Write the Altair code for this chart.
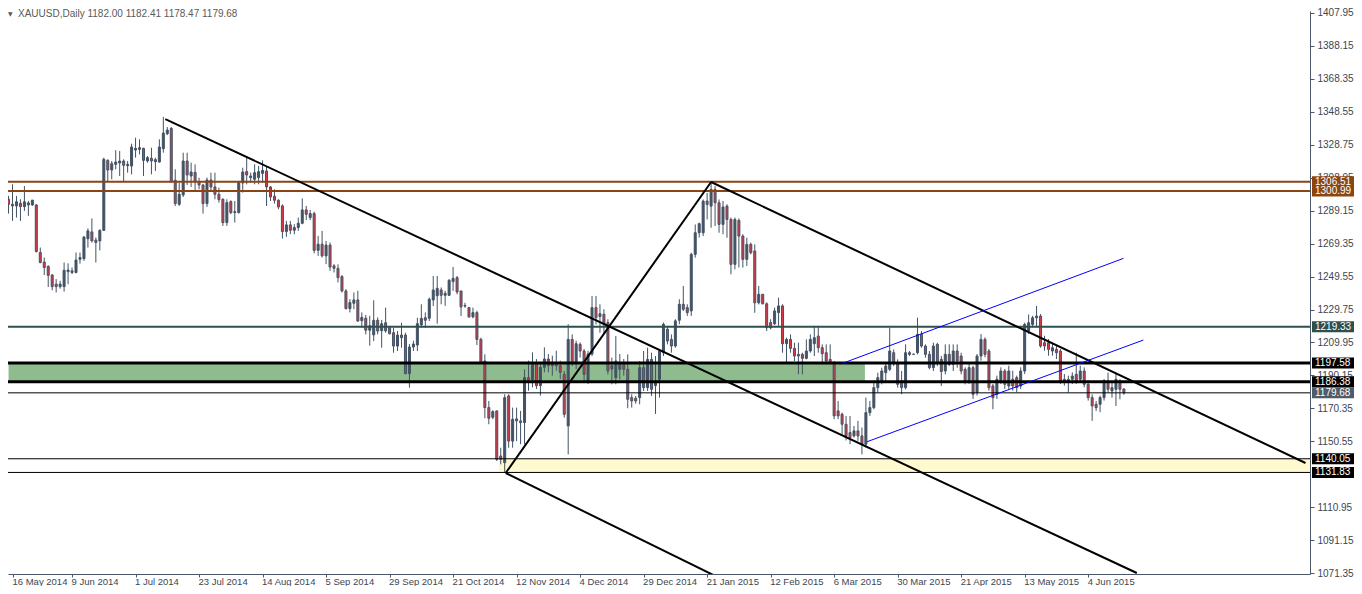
import json
import altair as alt
import pandas as pd

# ---------------- data ----------------
OPEN = [
    1296.0, 1293.0, 1292.0, 1293.6, 1291.6, 1292.6, 1292.6, 1292.6, 1264.0, 1258.3, 1255.7, 1250.5, 1245.0, 1243.5, 1243.5, 1252.5,
    1253.0, 1252.0, 1259.9, 1260.3, 1272.3, 1276.4, 1271.5, 1271.0, 1277.3, 1319.4, 1313.6, 1317.0, 1317.8, 1319.0, 1316.2, 1316.0,
    1325.6, 1326.0, 1326.6, 1319.0, 1320.6, 1318.6, 1318.4, 1326.4, 1335.4, 1338.6, 1307.4, 1293.0, 1298.6, 1319.0, 1310.0, 1312.2,
    1306.6, 1304.6, 1293.4, 1307.6, 1303.4, 1299.0, 1296.0, 1282.0, 1294.6, 1288.0, 1288.0, 1305.8, 1312.6, 1309.0, 1308.0, 1309.0,
    1311.6, 1313.0, 1303.4, 1297.8, 1295.4, 1292.0, 1276.6, 1280.6, 1277.4, 1279.0, 1281.6, 1289.6, 1285.0, 1287.4, 1265.3, 1269.0,
    1262.0, 1268.5, 1256.0, 1254.5, 1249.5, 1240.9, 1230.3, 1233.5, 1235.5, 1223.0, 1224.5, 1217.3, 1214.5, 1223.3, 1217.0, 1221.8,
    1218.8, 1215.8, 1207.8, 1214.4, 1214.4, 1191.2, 1207.2, 1208.4, 1220.5, 1224.8, 1224.5, 1235.5, 1238.0, 1241.5, 1238.3, 1238.3,
    1246.5, 1248.9, 1240.9, 1231.8, 1230.9, 1225.3, 1227.9, 1211.8, 1198.8, 1170.8, 1165.0, 1168.8, 1141.7, 1137.7, 1177.8, 1150.7,
    1164.0, 1162.8, 1161.8, 1188.8, 1187.5, 1197.0, 1184.0, 1195.0, 1200.0, 1196.0, 1198.0, 1196.0, 1190.8, 1159.8, 1211.8, 1197.8,
    1208.8, 1204.8, 1187.0, 1203.0, 1230.9, 1225.5, 1226.9, 1221.9, 1194.0, 1188.8, 1193.8, 1197.8, 1193.8, 1176.8, 1176.4, 1176.8,
    1194.8, 1182.8, 1199.8, 1184.0, 1187.8, 1203.8, 1217.9, 1211.8, 1207.8, 1223.3, 1232.9, 1230.9, 1228.9, 1262.9, 1275.9, 1275.9,
    1294.9, 1291.9, 1301.9, 1293.9, 1280.9, 1291.9, 1283.9, 1256.9, 1283.3, 1273.9, 1259.9, 1268.9, 1264.9, 1233.8, 1238.9, 1233.2,
    1221.9, 1221.2, 1227.9, 1231.9, 1209.2, 1211.8, 1206.4, 1202.8, 1202.8, 1200.4, 1204.8, 1209.2, 1213.8, 1206.8, 1203.8, 1199.8,
    1197.8, 1168.8, 1166.8, 1160.8, 1155.8, 1153.8, 1156.8, 1153.8, 1148.8, 1167.8, 1170.8, 1182.8, 1186.8, 1191.8, 1193.8, 1203.8,
    1197.8, 1186.8, 1182.8, 1203.8, 1202.8, 1203.8, 1214.8, 1207.8, 1202.8, 1194.8, 1208.8, 1199.8, 1192.8, 1202.8, 1196.8, 1204.8,
    1201.8, 1193.8, 1186.8, 1194.8, 1179.8, 1201.8, 1211.8, 1204.8, 1183.8, 1178.8, 1186.8, 1192.8, 1183.8, 1187.8, 1188.8, 1183.8,
    1192.8, 1216.8, 1220.8, 1224.8, 1225.8, 1209.8, 1209.8, 1204.8, 1205.8, 1204.8, 1186.8, 1186.8, 1187.8, 1190.8, 1187.8, 1192.8,
    1184.8, 1176.8, 1172.8, 1172.8, 1176.8, 1186.8, 1180.8, 1181.8, 1186.8, 1182.00,
]
HIGH = [
    1298.0, 1305.0, 1298.0, 1296.0, 1304.0, 1295.0, 1295.5, 1293.0, 1267.0, 1261.0, 1256.3, 1251.0, 1248.0, 1247.0, 1258.0, 1257.5,
    1255.0, 1264.0, 1264.0, 1274.0, 1278.5, 1284.5, 1273.0, 1278.0, 1321.0, 1320.0, 1319.0, 1325.5, 1325.0, 1320.0, 1319.0, 1329.4,
    1333.0, 1332.0, 1327.0, 1322.0, 1327.0, 1321.0, 1332.0, 1345.5, 1339.4, 1339.4, 1314.0, 1306.0, 1324.0, 1324.0, 1318.0, 1317.0,
    1309.0, 1305.0, 1309.0, 1312.0, 1312.0, 1303.0, 1296.6, 1296.0, 1295.4, 1295.0, 1307.0, 1315.0, 1322.0, 1312.0, 1317.0, 1316.0,
    1319.4, 1316.0, 1304.0, 1302.0, 1296.0, 1293.0, 1283.0, 1283.0, 1281.0, 1285.0, 1296.5, 1292.0, 1289.6, 1288.5, 1274.0, 1277.0,
    1271.0, 1270.0, 1257.0, 1256.9, 1250.5, 1242.0, 1236.0, 1240.0, 1241.0, 1228.0, 1226.5, 1226.0, 1235.3, 1225.0, 1223.5, 1230.9,
    1219.8, 1218.8, 1216.8, 1221.8, 1215.8, 1209.0, 1211.0, 1224.8, 1232.9, 1228.0, 1236.9, 1249.9, 1249.9, 1243.0, 1241.0, 1248.0,
    1255.3, 1249.9, 1241.0, 1233.8, 1231.3, 1230.9, 1229.0, 1212.8, 1202.8, 1174.8, 1169.2, 1169.0, 1146.7, 1178.8, 1178.8, 1170.8,
    1170.8, 1168.8, 1193.8, 1199.0, 1204.0, 1200.0, 1198.0, 1207.0, 1203.0, 1202.0, 1205.0, 1199.0, 1192.8, 1220.9, 1214.8, 1211.0,
    1210.0, 1206.0, 1205.0, 1237.9, 1237.9, 1232.9, 1229.9, 1223.9, 1200.8, 1213.8, 1203.0, 1200.0, 1202.8, 1178.8, 1177.8, 1198.8,
    1204.8, 1206.8, 1203.8, 1201.8, 1205.8, 1221.9, 1219.9, 1214.8, 1223.9, 1235.9, 1243.9, 1232.9, 1263.9, 1280.9, 1282.0, 1295.9,
    1299.9, 1305.9, 1303.9, 1295.9, 1295.0, 1293.0, 1285.0, 1285.0, 1284.5, 1275.0, 1272.9, 1270.0, 1268.9, 1243.9, 1239.0, 1234.0,
    1223.9, 1230.9, 1236.9, 1232.9, 1212.8, 1214.8, 1209.8, 1209.8, 1203.8, 1211.8, 1214.8, 1219.9, 1219.9, 1208.8, 1208.8, 1208.8,
    1198.8, 1174.8, 1167.8, 1165.8, 1165.8, 1159.8, 1162.8, 1158.8, 1176.8, 1174.8, 1185.8, 1191.8, 1194.8, 1197.8, 1218.8, 1205.8,
    1199.8, 1192.8, 1208.8, 1204.8, 1203.2, 1224.8, 1216.8, 1208.8, 1204.8, 1209.8, 1209.8, 1201.8, 1208.8, 1208.8, 1208.8, 1208.8,
    1203.8, 1195.0, 1198.0, 1196.0, 1203.0, 1215.0, 1213.0, 1206.0, 1185.0, 1190.0, 1195.0, 1194.0, 1196.0, 1193.0, 1190.0, 1195.0,
    1221.8, 1226.8, 1226.0, 1231.9, 1227.0, 1214.0, 1212.0, 1210.0, 1208.0, 1206.0, 1191.0, 1190.0, 1192.0, 1203.8, 1196.0, 1195.0,
    1187.0, 1178.8, 1174.8, 1178.0, 1188.0, 1191.8, 1186.8, 1191.8, 1187.8, 1182.41,
]
LOW = [
    1287.4, 1283.0, 1285.0, 1283.0, 1289.0, 1286.0, 1292.0, 1264.0, 1257.5, 1250.5, 1243.3, 1241.3, 1240.0, 1242.3, 1240.5, 1245.0,
    1251.0, 1251.5, 1257.3, 1259.0, 1267.0, 1270.0, 1258.0, 1265.3, 1277.0, 1306.4, 1308.0, 1314.0, 1310.0, 1306.4, 1312.0, 1311.0,
    1321.0, 1323.0, 1310.0, 1318.0, 1311.0, 1313.0, 1318.0, 1324.0, 1334.6, 1306.0, 1292.0, 1292.0, 1297.4, 1304.6, 1303.4, 1301.0,
    1302.0, 1287.4, 1291.4, 1301.0, 1296.0, 1294.0, 1280.0, 1280.0, 1287.0, 1282.0, 1287.4, 1300.0, 1305.0, 1306.0, 1305.0, 1305.0,
    1306.0, 1292.0, 1295.0, 1293.4, 1290.0, 1272.4, 1273.4, 1275.0, 1275.0, 1277.0, 1281.0, 1283.5, 1283.5, 1263.5, 1262.0, 1261.0,
    1257.0, 1253.0, 1252.0, 1246.0, 1240.0, 1229.8, 1228.0, 1230.0, 1222.5, 1218.9, 1214.8, 1208.0, 1210.8, 1214.8, 1206.8, 1215.8,
    1214.8, 1203.8, 1204.8, 1206.8, 1190.8, 1182.8, 1204.8, 1204.8, 1218.8, 1218.8, 1222.8, 1231.9, 1221.2, 1232.9, 1231.9, 1238.0,
    1240.9, 1238.9, 1225.9, 1230.8, 1224.8, 1224.5, 1208.4, 1196.8, 1164.4, 1160.8, 1163.8, 1138.7, 1136.7, 1131.7, 1146.7, 1146.7,
    1150.7, 1148.8, 1148.7, 1181.0, 1183.0, 1182.0, 1178.0, 1192.0, 1192.0, 1190.0, 1193.0, 1188.0, 1164.8, 1142.7, 1195.8, 1194.0,
    1200.8, 1185.8, 1185.0, 1201.8, 1220.8, 1215.8, 1214.8, 1190.8, 1184.8, 1184.8, 1187.8, 1190.0, 1170.4, 1170.8, 1173.2, 1172.8,
    1180.8, 1180.8, 1177.8, 1167.0, 1176.8, 1201.8, 1208.8, 1203.8, 1206.8, 1220.9, 1228.8, 1225.9, 1225.9, 1260.9, 1273.0, 1273.9,
    1283.9, 1278.9, 1279.9, 1275.9, 1275.0, 1272.9, 1250.9, 1253.9, 1255.0, 1254.9, 1255.9, 1262.9, 1227.8, 1232.8, 1232.8, 1216.8,
    1217.8, 1220.4, 1219.9, 1203.8, 1197.8, 1203.8, 1198.8, 1190.8, 1190.8, 1199.8, 1203.8, 1201.8, 1203.8, 1196.8, 1196.8, 1196.8,
    1163.8, 1163.8, 1154.8, 1151.1, 1148.8, 1152.8, 1150.8, 1142.7, 1146.8, 1165.8, 1169.8, 1179.8, 1184.8, 1185.8, 1192.8, 1195.8,
    1182.8, 1178.8, 1181.8, 1201.8, 1202.4, 1202.8, 1206.8, 1200.8, 1193.8, 1192.8, 1195.8, 1183.8, 1190.8, 1195.8, 1192.8, 1194.8,
    1190.8, 1184.8, 1185.0, 1176.0, 1178.0, 1199.0, 1201.0, 1181.0, 1169.8, 1176.0, 1185.0, 1182.0, 1182.0, 1181.0, 1180.0, 1182.0,
    1191.0, 1215.0, 1219.0, 1219.0, 1206.8, 1205.0, 1202.0, 1202.0, 1200.0, 1185.0, 1184.0, 1179.8, 1185.0, 1185.0, 1186.0, 1183.0,
    1175.0, 1162.8, 1168.8, 1168.0, 1175.0, 1180.0, 1176.8, 1171.8, 1175.8, 1178.47,
]
CLOSE = [
    1293.0, 1292.0, 1294.5, 1291.6, 1294.5, 1293.8, 1295.5, 1264.6, 1258.0, 1255.0, 1250.3, 1243.5, 1243.5, 1245.0, 1253.3, 1253.5,
    1252.0, 1259.5, 1261.0, 1273.3, 1277.0, 1271.0, 1270.0, 1277.3, 1320.0, 1313.6, 1317.4, 1318.4, 1319.0, 1316.4, 1317.0, 1327.4,
    1326.6, 1327.0, 1319.4, 1321.0, 1319.0, 1319.8, 1327.4, 1335.8, 1337.6, 1306.6, 1293.4, 1299.0, 1319.0, 1310.6, 1312.4, 1306.4,
    1304.6, 1293.4, 1307.6, 1303.4, 1299.0, 1295.8, 1282.0, 1294.0, 1288.0, 1288.6, 1306.0, 1312.4, 1310.6, 1310.0, 1312.0, 1312.6,
    1313.4, 1303.4, 1297.4, 1295.4, 1291.4, 1276.6, 1280.6, 1277.4, 1279.0, 1281.6, 1289.6, 1287.0, 1287.4, 1265.3, 1269.0, 1262.0,
    1268.5, 1255.3, 1254.5, 1248.9, 1240.9, 1230.3, 1233.9, 1235.5, 1222.8, 1225.0, 1217.3, 1220.0, 1223.3, 1216.8, 1221.2, 1216.9,
    1215.2, 1207.8, 1214.4, 1212.8, 1191.2, 1207.2, 1209.0, 1221.2, 1224.4, 1223.3, 1235.9, 1241.5, 1242.5, 1238.3, 1239.5, 1247.3,
    1248.5, 1240.3, 1231.3, 1232.2, 1225.3, 1227.9, 1211.8, 1197.8, 1170.8, 1164.4, 1168.4, 1139.7, 1139.7, 1176.8, 1150.7, 1163.8,
    1162.8, 1161.8, 1188.8, 1187.5, 1197.0, 1184.0, 1195.0, 1200.0, 1196.0, 1198.0, 1196.0, 1192.0, 1166.8, 1211.8, 1197.8, 1209.2,
    1204.8, 1190.8, 1203.0, 1230.9, 1224.8, 1227.2, 1220.9, 1192.8, 1196.0, 1198.8, 1197.8, 1193.8, 1175.8, 1174.8, 1174.8, 1194.8,
    1182.8, 1199.8, 1181.8, 1186.8, 1204.8, 1220.9, 1210.8, 1207.8, 1222.9, 1232.9, 1229.9, 1227.9, 1262.9, 1275.9, 1281.3, 1294.9,
    1292.9, 1301.9, 1293.9, 1280.9, 1291.4, 1283.9, 1256.9, 1283.9, 1273.9, 1259.9, 1268.9, 1263.9, 1233.8, 1238.9, 1233.2, 1218.8,
    1218.8, 1228.9, 1231.9, 1209.2, 1211.8, 1206.4, 1201.8, 1201.8, 1200.4, 1204.8, 1211.8, 1212.8, 1206.8, 1203.2, 1198.8, 1197.8,
    1165.8, 1165.8, 1160.8, 1153.8, 1152.8, 1156.8, 1153.8, 1148.8, 1167.8, 1170.8, 1182.8, 1188.8, 1192.8, 1195.8, 1204.8, 1197.8,
    1184.8, 1182.8, 1203.8, 1202.8, 1202.9, 1214.8, 1207.8, 1202.8, 1194.8, 1207.8, 1197.8, 1192.5, 1202.8, 1196.8, 1204.8, 1198.8,
    1192.8, 1186.8, 1194.8, 1178.8, 1201.8, 1211.8, 1202.8, 1182.8, 1176.8, 1187.8, 1192.8, 1184.8, 1192.8, 1183.8, 1182.8, 1192.8,
    1220.8, 1221.8, 1224.8, 1225.8, 1207.8, 1207.8, 1205.8, 1206.8, 1203.8, 1186.8, 1187.8, 1187.8, 1189.8, 1186.8, 1192.8, 1184.8,
    1176.8, 1171.8, 1170.8, 1176.8, 1186.8, 1181.8, 1182.8, 1187.8, 1181.8, 1179.68,
]

DATE_LABELS = [
    "16 May 2014", "9 Jun 2014", "1 Jul 2014", "23 Jul 2014", "14 Aug 2014", "5 Sep 2014",
    "29 Sep 2014", "21 Oct 2014", "12 Nov 2014", "4 Dec 2014", "29 Dec 2014", "21 Jan 2015",
    "12 Feb 2015", "6 Mar 2015", "30 Mar 2015", "21 Apr 2015", "13 May 2015", "4 Jun 2015",
]
BARS_PER_LABEL = 16

# 1130.75 is hidden behind the 1131.83 tag in the original
PRICE_TICKS = [1407.95, 1388.15, 1368.35, 1348.55, 1328.75, 1308.95, 1289.15, 1269.35, 1249.55,
               1229.75, 1209.95, 1190.15, 1170.35, 1150.55, 1110.95, 1091.15, 1071.35]

BROWN_LEVELS = [1306.51, 1300.99]
SLATE_LEVELS = [1219.33]
THICK_LEVELS = [1197.58, 1186.38]
THIN_LEVELS = [1179.68, 1140.05, 1131.83]
BID_LEVEL = [1179.68]
BLACK_TAGS = [1197.58, 1186.38, 1140.05, 1131.83]

# zones: bar-index span and price span
GREEN_ZONE_X = [0, 215.75]
GREEN_ZONE_Y = [1186.38, 1197.58]
YELLOW_ZONE_X = [123.5, 330]
YELLOW_ZONE_Y = [1131.83, 1140.05]

# trend lines: (bar, price) -> (bar, price)
BLACK_X1 = [39.5, 125.25, 125.25, 177.0]
BLACK_Y1 = [1344.2, 1131.5, 1131.5, 1306.4]
BLACK_X2 = [284.25, 182.0, 177.0, 326.75]
BLACK_Y2 = [1071.4, 1065.0, 1306.4, 1137.5]
BLUE_X1 = [216.3, 210.1]
BLUE_Y1 = [1150.3, 1197.4]
BLUE_X2 = [285.9, 280.9]
BLUE_Y2 = [1211.4, 1260.5]

HEADER = "XAUUSD,Daily  1182.00 1182.41 1178.47 1179.68"

# ---------------- styling ----------------
W, H = 1302, 563
PAD_T, PAD_R, PAD_B = 3, 44, 12
X_DOM = [1.125, 326.625]
Y_DOM = [1070.80, 1409.15]
SLATE = "#435365"
RED = "#DA3A44"
AXIS_C = "#4A5868"
TEXT_C = "#3C4652"
FONT = "Liberation Sans"
FS = 10

xs = alt.Scale(domain=X_DOM, nice=False, zero=False)
ys = alt.Scale(domain=Y_DOM, nice=False, zero=False)

tick_vals = [max(k * BARS_PER_LABEL, X_DOM[0]) for k in range(len(DATE_LABELS))]
x_axis = alt.Axis(
    values=tick_vals,
    labelExpr=f"{json.dumps(DATE_LABELS)}[round(datum.value / {BARS_PER_LABEL})]",
    labelAlign="left", labelBaseline="top", labelPadding=-1, labelFlush=False, labelOffset=-1,
    tickSize=3, tickColor=AXIS_C, domainColor=AXIS_C, grid=False, title=None,
    labelOverlap=False, labelFont=FONT, labelFontSize=9.5, labelColor=TEXT_C,
)
y_axis = alt.Axis(
    orient="right", values=PRICE_TICKS, format=".2f", tickSize=4, labelPadding=3,
    tickColor=AXIS_C, domainColor=AXIS_C, grid=False, title=None, labelOverlap=False,
    labelFont=FONT, labelFontSize=FS, labelColor=TEXT_C,
)


def X(f):
    return alt.X(f, scale=xs, axis=x_axis)


def Y(f):
    return alt.Y(f, scale=ys, axis=y_axis)


candles = pd.DataFrame({"i": range(len(OPEN)), "o": OPEN, "h": HIGH, "l": LOW, "c": CLOSE})

zones = pd.DataFrame({
    "x0": [GREEN_ZONE_X[0], YELLOW_ZONE_X[0]], "x1": [GREEN_ZONE_X[1], YELLOW_ZONE_X[1]],
    "y0": [GREEN_ZONE_Y[0], YELLOW_ZONE_Y[0]], "y1": [GREEN_ZONE_Y[1], YELLOW_ZONE_Y[1]],
    "zone": ["green", "yellow"],
})
zone_layer = alt.Chart(zones).mark_rect(clip=True).encode(
    x=X("x0:Q"), x2="x1:Q", y=Y("y0:Q"), y2="y1:Q",
    color=alt.Color("zone:N", scale=alt.Scale(domain=["green", "yellow"], range=["#8FBC8F", "#FFF9CF"]), legend=None),
)

wicks = alt.Chart(candles).mark_rule(color=SLATE, strokeWidth=1, clip=True).encode(
    x=X("i:Q"), y=Y("l:Q"), y2="h:Q")
bodies = alt.Chart(candles).mark_bar(size=2, stroke=SLATE, strokeWidth=1, clip=True).encode(
    x=X("i:Q"), y=Y("o:Q"), y2="c:Q",
    fill=alt.condition("datum.c < datum.o", alt.value(RED), alt.value(SLATE)),
)


def hlines(levels, color, width):
    return alt.Chart(pd.DataFrame({"p": levels})).mark_rule(color=color, strokeWidth=width, clip=True).encode(
        y=Y("p:Q"))


segs_black = pd.DataFrame({"x1": BLACK_X1, "y1": BLACK_Y1, "x2": BLACK_X2, "y2": BLACK_Y2})
segs_blue = pd.DataFrame({"x1": BLUE_X1, "y1": BLUE_Y1, "x2": BLUE_X2, "y2": BLUE_Y2})
black_lines = alt.Chart(segs_black).mark_rule(color="#000000", strokeWidth=2, clip=True).encode(
    x=X("x1:Q"), y=Y("y1:Q"), x2="x2:Q", y2="y2:Q")
blue_lines = alt.Chart(segs_blue).mark_rule(color="#0000FF", strokeWidth=1, clip=True).encode(
    x=X("x1:Q"), y=Y("y1:Q"), x2="x2:Q", y2="y2:Q")


def tags(levels, color):
    d = pd.DataFrame({"p": levels})
    box = alt.Chart(d).mark_rule(color=color, strokeWidth=11).encode(
        x=alt.value(W + 2), x2=alt.value(W + PAD_R), y=Y("p:Q"))
    txt = alt.Chart(d).mark_text(align="left", baseline="middle", color="#FFFFFF",
                                 font=FONT, fontSize=FS).encode(
        x=alt.value(W + 5), y=Y("p:Q"), text=alt.Text("p:Q", format=".2f"))
    return [box, txt]


hdr = pd.DataFrame({"t": [HEADER]})
header = alt.Chart(hdr).mark_text(align="left", baseline="top", color="#5A5A5A",
                                  font=FONT, fontSize=10).encode(
    x=alt.value(10), y=alt.value(-2), text="t:N")
tri = alt.Chart(pd.DataFrame({"t": ["\u25BC"]})).mark_text(align="left", baseline="top", color="#5A5A5A",
                                                          font="DejaVu Sans", fontSize=6).encode(
    x=alt.value(0), y=alt.value(0), text="t:N")

layers = [
    zone_layer,
    wicks,
    bodies,
    hlines(BROWN_LEVELS, "#8B4513", 2),
    hlines(SLATE_LEVELS, "#2F4F4F", 2),
    hlines(THICK_LEVELS, "#000000", 3),
    hlines(THIN_LEVELS, "#000000", 1),
    black_lines,
    blue_lines,
]
layers += tags(BROWN_LEVELS[:1], "#8B4513") + tags(BROWN_LEVELS[1:], "#8B4513")
layers += tags(SLATE_LEVELS, "#2F4F4F")
layers += tags(BLACK_TAGS, "#000000")
layers += tags(BID_LEVEL, "#4E5B68")
layers += [tri, header]

chart = alt.layer(*layers).properties(
    width=W, height=H,
    autosize=alt.AutoSizeParams(type="none"),
    padding={"left": 0, "top": PAD_T, "right": PAD_R, "bottom": PAD_B},
    background="#FFFFFF",
).configure_view(stroke=None)

chart.save("out.html", embed_options={"renderer": "svg", "actions": False})
